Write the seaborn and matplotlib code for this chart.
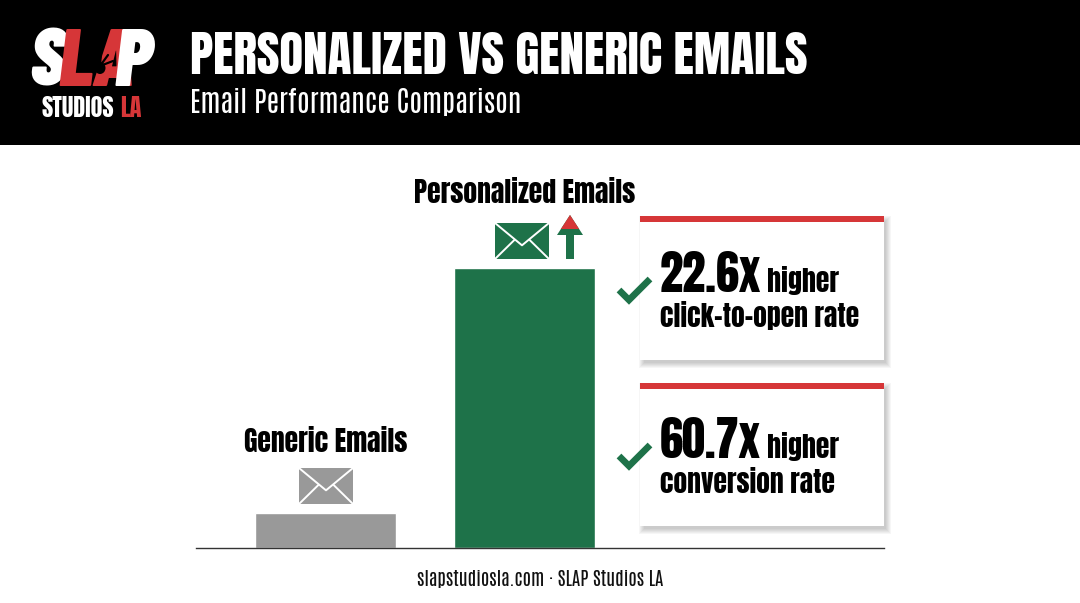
# Personalized vs generic emails chart, one seaborn bar axes under a pixel overlay
import matplotlib
matplotlib.use('Agg')
import matplotlib.pyplot as plt
import matplotlib.patches as mpatches
import pandas as pd
import seaborn as sns

# --- Data ---
categories = ['Generic Emails', 'Personalized Emails']
bar_values = [1, 8]
bar_colors = ['#999999', '#1E7249']
title = 'PERSONALIZED VS GENERIC EMAILS'
subtitle = 'Email Performance Comparison'
multipliers = ['22.6x', '60.7x']
card_word = 'higher'
card_metrics = ['click-to-open rate', 'conversion rate']
footer = 'slapstudiosla.com · SLAP Studios LA'

GREEN = '#1E7249'
GRAY = '#999999'
RED = '#D63638'
HEAVY = 'Anton'
THIN = 'Antonio'
LOGO = 'Barlow Condensed'

W, H = 1080, 603


def draw_envelope(ax, x, y, w, h, color):
    ax.add_patch(mpatches.Rectangle((x, y), w, h, fc=color, ec='none', zorder=3))
    mid_x, mid_y = x + w / 2, y + h * 0.62
    ax.plot([x, mid_x, x + w], [y, mid_y, y], color='white', lw=1.4, zorder=4)
    ax.plot([x, x + w * 0.36], [y + h, y + h * 0.47], color='white', lw=1.4, zorder=4)
    ax.plot([x + w, x + w * 0.64], [y + h, y + h * 0.47], color='white', lw=1.4, zorder=4)


def draw_card(ax, y_top, y_bottom):
    x0, x1 = 640, 884
    # soft shadow, stacked see-through rectangles
    for grow in [4, 3, 2, 1, 0, -1]:
        ax.add_patch(mpatches.Rectangle((x0 + 3 - grow, y_top + 4 - grow), x1 - x0 + 2 * grow,
                                        y_bottom - y_top + 2 * grow, fc='black', alpha=0.035, ec='none', zorder=1))
    ax.add_patch(mpatches.Rectangle((x0, y_top), x1 - x0, y_bottom - y_top, fc='white', ec='none', zorder=2))
    ax.add_patch(mpatches.Rectangle((x0, y_top), x1 - x0, 5.5, fc=RED, ec='none', zorder=3))


def draw_check(ax, dy):
    ax.plot([619, 629, 650], [290 + dy, 300 + dy, 279 + dy], color=GREEN, lw=4.8,
            solid_joinstyle='miter', solid_capstyle='butt', zorder=3)


def main():
    sns.set_theme(style='white')
    fig = plt.figure(figsize=(W / 100, H / 100), dpi=100, facecolor='white')

    # --- Bars ---
    ax = fig.add_axes([196 / W, (H - 548) / H, 688 / W, 280 / H])
    df = pd.DataFrame({'category': categories, 'value': bar_values})
    sns.barplot(data=df, x='category', y='value', hue='category', palette=bar_colors,
                width=0.705, legend=False, saturation=1, ax=ax)
    ax.set_xlim(-0.651, 2.806)
    ax.set_ylim(0, max(bar_values))
    ax.set_xlabel('')
    ax.set_ylabel('')
    ax.set_xticks([])
    ax.set_yticks([])
    sns.despine(ax=ax, left=True)
    ax.spines['bottom'].set_color('#333333')
    ax.spines['bottom'].set_linewidth(1.0)
    ax.patch.set_alpha(0)

    # --- Overlay in pixels ---
    ov = fig.add_axes([0, 0, 1, 1], zorder=5)
    ov.set_xlim(0, W)
    ov.set_ylim(H, 0)
    ov.axis('off')

    ov.add_patch(mpatches.Rectangle((0, 0), W, 144.5, fc='black', ec='none', zorder=1))
    ov.text(190, 74, title, family=HEAVY, fontsize=35.4, color='white', va='baseline', zorder=3)
    ov.text(190, 113, subtitle, family=THIN, fontsize=20.6, color='white', va='baseline', zorder=3)

    # logo
    logo_kw = dict(family=LOGO, fontsize=58, weight=900, style='italic', va='baseline', zorder=3)
    ov.text(29, 86, 'S', color='white', **logo_kw)
    ov.text(58, 86, 'LA', color=RED, **logo_kw)
    ov.text(115, 86, 'P', color='white', **logo_kw)
    ov.text(41, 117, 'STUDIOS', family=HEAVY, fontsize=17.5, color='white', va='baseline', zorder=3)
    ov.text(120, 117, 'LA', family=HEAVY, fontsize=17.5, color=RED, va='baseline', zorder=3)
    ov.add_patch(mpatches.Ellipse((100, 68), 11, 12, fc='black', ec='none', zorder=4))
    for x_end, y_end in [(93, 56), (101, 52), (108, 55), (113, 61)]:
        ov.plot([100, x_end], [66, y_end], color='black', lw=1.6, zorder=4)

    # labels above bars
    ov.text(525, 203, categories[1], family=HEAVY, fontsize=20, color='black', ha='center', va='baseline', zorder=3)
    ov.text(326, 452, categories[0], family=HEAVY, fontsize=20, color='black', ha='center', va='baseline', zorder=3)

    # icons
    draw_envelope(ov, 299, 468, 54, 36, GRAY)
    draw_envelope(ov, 495, 223, 54, 36, GREEN)
    ov.add_patch(mpatches.Rectangle((566, 232), 8, 27, fc=GREEN, ec='none', zorder=3))
    ov.add_patch(mpatches.Polygon([(570, 215), (583, 235), (557, 235)], fc=GREEN, ec='none', zorder=3))
    ov.add_patch(mpatches.Polygon([(570, 215), (579.1, 229), (560.9, 229)], fc=RED, ec='none', zorder=4))

    # cards
    for i, (top, bottom, base_1, base_2) in enumerate([(216, 360, 292, 327), (383, 526, 458, 493)]):
        draw_card(ov, top, bottom)
        draw_check(ov, 166 * i)
        ov.text(660, base_1, multipliers[i], family=HEAVY, fontsize=33.5, color='black', va='baseline', zorder=4)
        ov.text(767, base_1, card_word, family=HEAVY, fontsize=20, color='black', va='baseline', zorder=4)
        ov.text(660, base_2, card_metrics[i], family=HEAVY, fontsize=19.8, color='black', va='baseline', zorder=4)

    ov.text(540, 586, footer, family=THIN, fontsize=13.6, color='#111111', ha='center', va='baseline', zorder=3)

    fig.savefig('out.png', dpi=100, facecolor='white')
    plt.close(fig)


if __name__ == '__main__':
    main()
